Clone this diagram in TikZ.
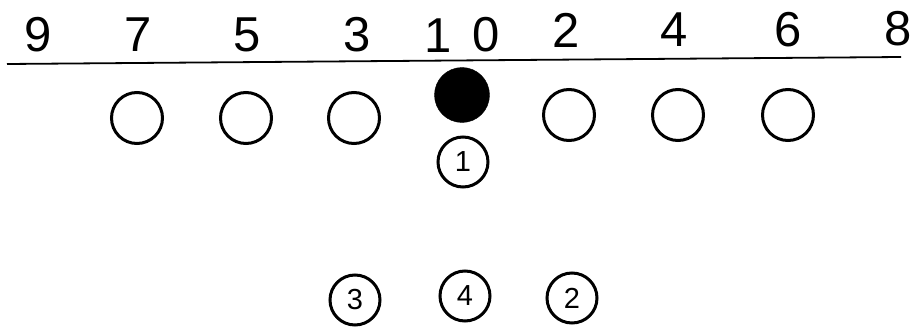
\documentclass[tikz,border=0pt]{standalone}
\usepackage{fontspec}
\setmainfont{Liberation Sans}
\begin{document}
\begin{tikzpicture}[x=1pt,y=-1pt,
  gap/.style={inner sep=0pt, anchor=base, font=\fontsize{49}{49}\selectfont},
  lineman/.style={circle, draw, line width=3pt, minimum size=51pt, inner sep=0pt},
  ctr/.style={circle, draw=black, fill=black, minimum size=55pt, inner sep=0pt},
  back/.style={circle, draw, line width=3pt, minimum size=50pt, inner sep=0pt, font=\fontsize{29}{29}\selectfont}]
\useasboundingbox (0,0) rectangle (916,329);
% line of scrimmage
\coordinate (la) at (7,64);
\coordinate (lb) at (901,57);
\draw[line width=1.8pt] (la) -- (lb);
% gap numbers
\node[gap] (g9) at (38,52) {9};
\node[gap] (g7) at (138,52) {7};
\node[gap] (g5) at (247,52) {5};
\node[gap] (g3) at (357,52) {3};
\node[gap] (g1) at (438,53) {1};
\node[gap] (g0) at (486,52) {0};
\node[gap] (g2) at (566,48) {2};
\node[gap] (g4) at (674,47) {4};
\node[gap] (g6) at (788,47) {6};
\node[gap] (g8) at (898,46) {8};
% linemen
\node[ctr] (c) at (462,95) {};
\node[lineman] (l1) at (137,118) {};
\node[lineman] (l2) at (246,118) {};
\node[lineman] (l3) at (354,118) {};
\node[lineman] (r1) at (569,115) {};
\node[lineman] (r2) at (678,115) {};
\node[lineman] (r3) at (788,115) {};
% backs
\node[back] (b1) at (463,162) {1};
\node[back] (b3) at (355,300) {3};
\node[back] (b4) at (465,296) {4};
\node[back] (b2) at (572,298) {2};
\end{tikzpicture}
\end{document}
